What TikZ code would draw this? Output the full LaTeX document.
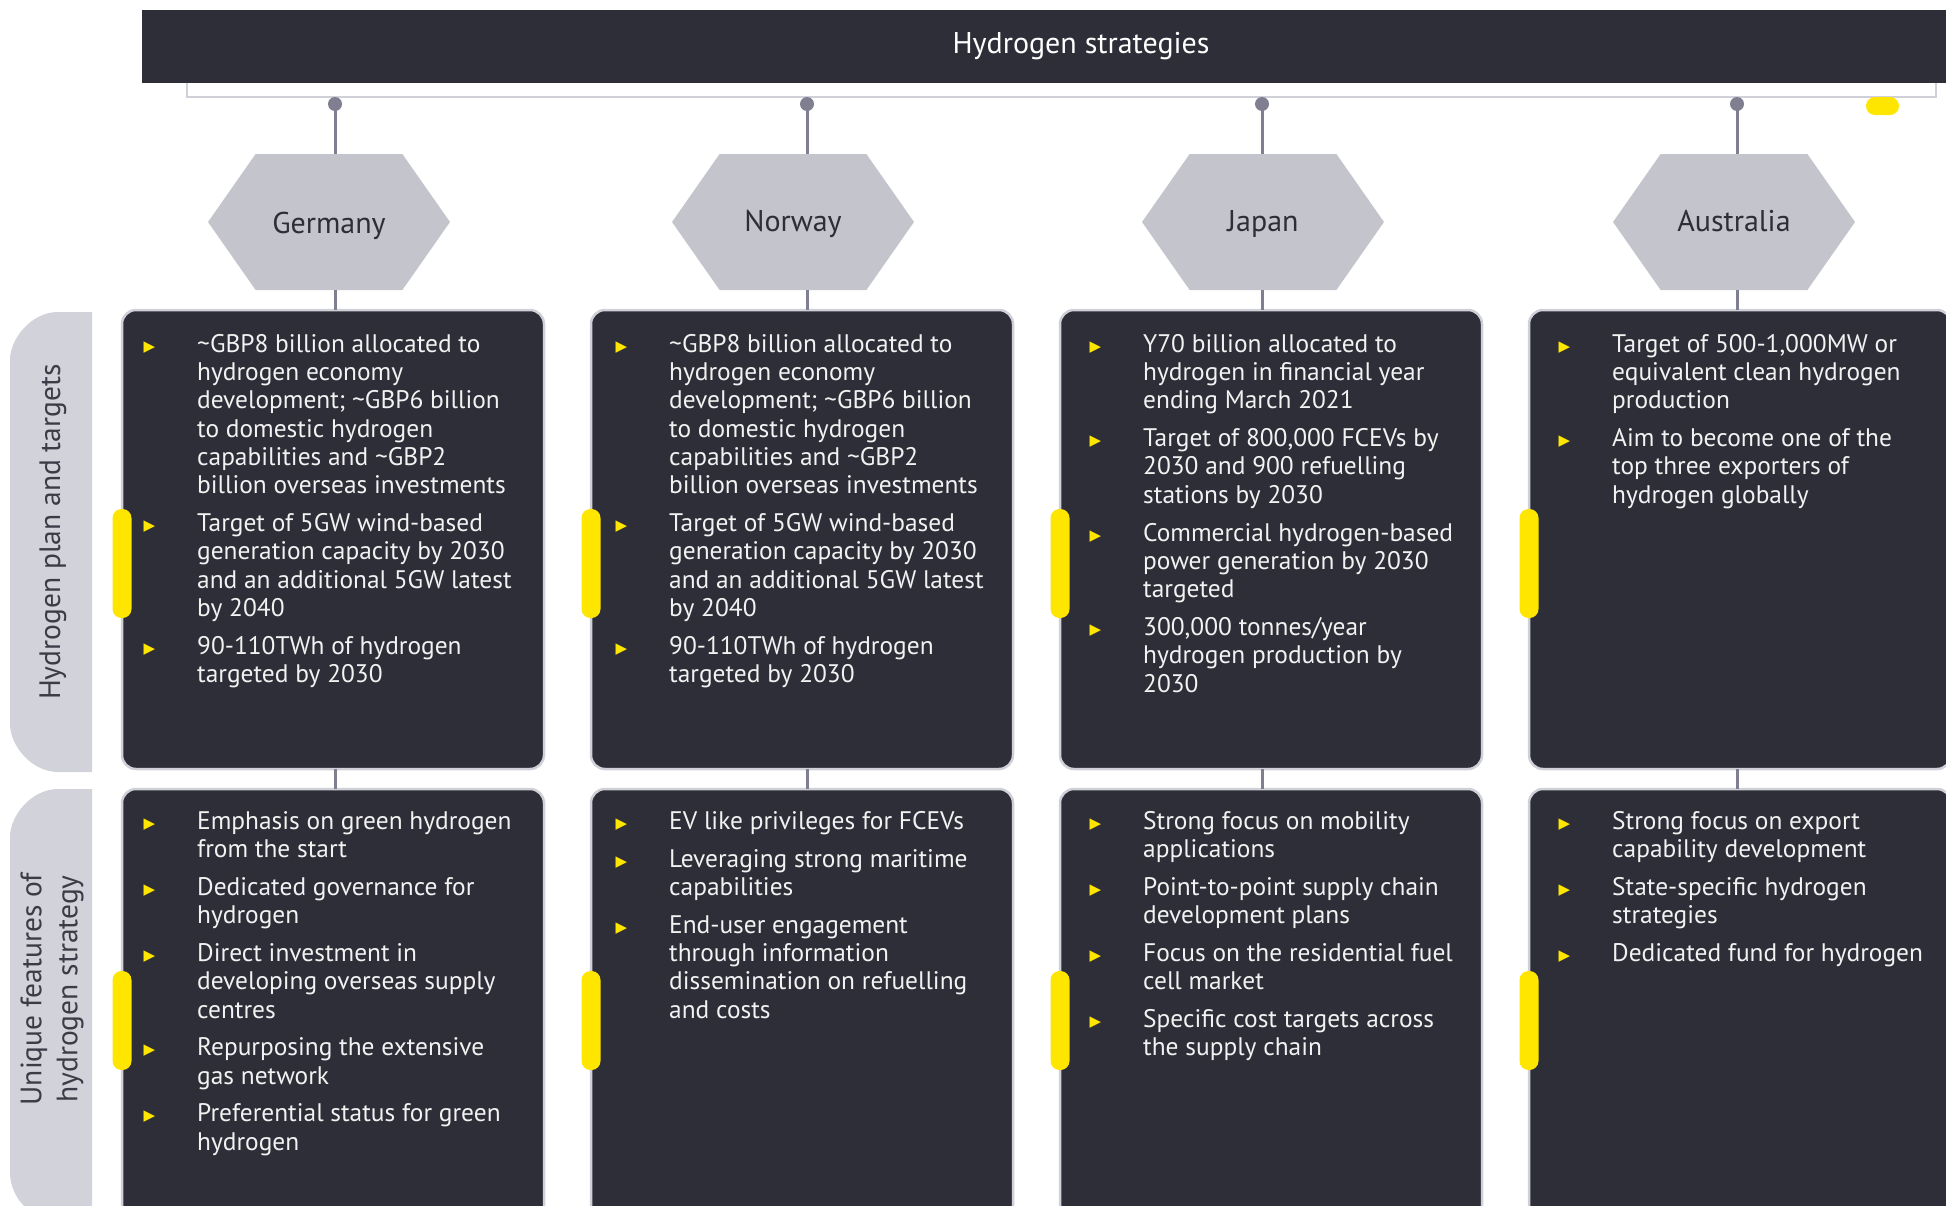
\documentclass[tikz,border=0pt]{standalone}
\usepackage{fontspec}
\setmainfont{PT Sans}
\newfontfamily\symbfont{DejaVu Sans}
\usetikzlibrary{positioning,shapes.symbols}

\definecolor{eydark}{HTML}{2E2E38}
\definecolor{eyyellow}{HTML}{FFE600}
\definecolor{hexgray}{HTML}{C4C4CD}
\definecolor{tabgray}{HTML}{D2D2DA}
\definecolor{linkgray}{HTML}{7F7F91}
\definecolor{edgegray}{HTML}{D0D0D8}
\definecolor{tabtextgray}{HTML}{3C3C48}
\definecolor{bodywhite}{HTML}{F2F2F2}

\newcommand{\hbul}{\llap{\raisebox{1pt}{\symbfont\fontsize{15pt}{15pt}\selectfont\textcolor{eyyellow}{▶}}\hspace{42pt}}}
\newcommand{\firstline}{\rule{0pt}{22pt}}

\begin{document}
\begin{tikzpicture}[x=1pt, y=-1pt,
		infobox/.style={draw=edgegray, line width=2.5pt, fill=eydark, rounded corners=14pt, minimum width=422pt, inner sep=0pt, outer sep=0pt},
		itemtext/.style={text=bodywhite, align=left, inner sep=0pt, anchor=north west, font=\fontsize{25.4pt}{28.3pt}\selectfont},
		hexnode/.style={signal, signal to=east and west, signal pointer angle=110, fill=hexgray, minimum width=242pt, minimum height=136pt, inner sep=0pt, text=eydark, text height=26pt, text depth=7pt, font=\fontsize{30pt}{32pt}\selectfont},
		link/.style={linkgray, line width=3pt},
		pill/.style={fill=eyyellow, rounded corners=9pt, minimum width=19pt, inner sep=0pt, outer sep=0pt},
		tabtext/.style={text=tabtextgray, font=\fontsize{29.5pt}{36pt}\selectfont, align=center, rotate=90}]

	\useasboundingbox (0,0) rectangle (1946,1205);
	\clip (0,0) rectangle (1946,1205);

	\fill[tabgray]	(92,312) -- (58,312) .. controls (31.5,312) and (10,338.5) .. (10,360)
					-- (10,724) .. controls (10,745.5) and (31.5,772) .. (58,772) -- (92,772) -- cycle;
	\fill[tabgray]	(92,789) -- (58,789) .. controls (31.5,789) and (10,815.5) .. (10,837)
					-- (10,1172) .. controls (10,1198.5) and (31.5,1220) .. (58,1220) -- (92,1220) -- cycle;
	\node[tabtext] (tab1) at (53,532) {Hydrogen plan and targets};
	\node[tabtext] (tab2) at (52,989) {Unique features of\\hydrogen strategy};

	\draw[edgegray, line width=2pt] (187,83) -- (187,97) -- (1936,97) -- (1936,83);
	\node[fill=eydark, text=white, minimum width=1878pt, minimum height=73pt, inner sep=0pt,
		font=\fontsize{30pt}{32pt}\selectfont] (bar) at (1081,46.5) {Hydrogen strategies};
	\node[pill, minimum width=33pt, minimum height=18pt, anchor=north west] (barpill) at (1866,97) {};

	\coordinate (dg) at (335,104);
	\coordinate (dn) at (807,104);
	\coordinate (dj) at (1262,104);
	\coordinate (da) at (1737,104);
	\fill[linkgray]	(dg) circle (7pt)
					(dn) circle (7pt)
					(dj) circle (7pt)
					(da) circle (7pt);

	\node[hexnode, text depth=3pt] (hexg) at (329,222) {Germany};
	\node[hexnode] (hexn) at (793,222) {Norway};
	\node[hexnode] (hexj) at (1263,222) {Japan};
	\node[hexnode] (hexa) at (1734,222) {Australia};

	\node[infobox, minimum height=459pt, anchor=north west] (ger1) at (122,310) {};
	\node[infobox, minimum height=459pt, right=47pt of ger1] (nor1) {};
	\node[infobox, minimum height=459pt, right=47pt of nor1] (jap1) {};
	\node[infobox, minimum height=459pt, right=47pt of jap1] (aus1) {};
	\node[infobox, minimum height=436pt, below=20pt of ger1] (ger2) {};
	\node[infobox, minimum height=436pt, below=20pt of nor1] (nor2) {};
	\node[infobox, minimum height=436pt, below=20pt of jap1] (jap2) {};
	\node[infobox, minimum height=436pt, below=20pt of aus1] (aus2) {};

	\draw[link] (dg) -- (dg |- hexg.north);
	\draw[link] (dn) -- (dn |- hexn.north);
	\draw[link] (dj) -- (dj |- hexj.north);
	\draw[link] (da) -- (da |- hexa.north);
	\draw[link] (dg |- hexg.south) -- (dg |- ger1.north);
	\draw[link] (dn |- hexn.south) -- (dn |- nor1.north);
	\draw[link] (dj |- hexj.south) -- (dj |- jap1.north);
	\draw[link] (da |- hexa.south) -- (da |- aus1.north);
	\draw[link] (dg |- ger1.south) -- (dg |- ger2.north);
	\draw[link] (dn |- nor1.south) -- (dn |- nor2.north);
	\draw[link] (dj |- jap1.south) -- (dj |- jap2.north);
	\draw[link] (da |- aus1.south) -- (da |- aus2.north);

	\node[pill, minimum height=109pt, anchor=north] (ger1p) at ([yshift=-199pt]ger1.north west) {};
	\node[pill, minimum height=109pt, anchor=north] (nor1p) at ([yshift=-199pt]nor1.north west) {};
	\node[pill, minimum height=109pt, anchor=north] (jap1p) at ([yshift=-199pt]jap1.north west) {};
	\node[pill, minimum height=109pt, anchor=north] (aus1p) at ([yshift=-199pt]aus1.north west) {};
	\node[pill, minimum height=99pt, anchor=north] (ger2p) at ([yshift=-182pt]ger2.north west) {};
	\node[pill, minimum height=99pt, anchor=north] (nor2p) at ([yshift=-182pt]nor2.north west) {};
	\node[pill, minimum height=99pt, anchor=north] (jap2p) at ([yshift=-182pt]jap2.north west) {};
	\node[pill, minimum height=99pt, anchor=north] (aus2p) at ([yshift=-182pt]aus2.north west) {};

	\node[itemtext] (ger1t) at ([xshift=75pt, yshift=-20pt]ger1.north west)
		{\hbul\firstline\textasciitilde GBP8 billion allocated to\\
		hydrogen economy\\
		development; \textasciitilde GBP6 billion\\
		to domestic hydrogen\\
		capabilities and \textasciitilde GBP2\\
		billion overseas investments\\[9.5pt]
		\hbul Target of 5GW wind-based\\
		generation capacity by 2030\\
		and an additional 5GW latest\\
		by 2040\\[9.5pt]
		\hbul 90-110TWh of hydrogen\\
		targeted by 2030};
	\node[itemtext] (nor1t) at ([xshift=78pt, yshift=-20pt]nor1.north west)
		{\hbul\firstline\textasciitilde GBP8 billion allocated to\\
		hydrogen economy\\
		development; \textasciitilde GBP6 billion\\
		to domestic hydrogen\\
		capabilities and \textasciitilde GBP2\\
		billion overseas investments\\[9.5pt]
		\hbul Target of 5GW wind-based\\
		generation capacity by 2030\\
		and an additional 5GW latest\\
		by 2040\\[9.5pt]
		\hbul 90-110TWh of hydrogen\\
		targeted by 2030};
	\node[itemtext] (jap1t) at ([xshift=83pt, yshift=-20pt]jap1.north west)
		{\hbul\firstline Y70 billion allocated to\\
		hydrogen in financial year\\
		ending March 2021\\[9.5pt]
		\hbul Target of 800,000 FCEVs by\\
		2030 and 900 refuelling\\
		stations by 2030\\[9.5pt]
		\hbul Commercial hydrogen-based\\
		power generation by 2030\\
		targeted\\[9.5pt]
		\hbul 300,000 tonnes/year\\
		hydrogen production by\\
		2030};
	\node[itemtext] (aus1t) at ([xshift=83pt, yshift=-20pt]aus1.north west)
		{\hbul\firstline Target of 500-1,000MW or\\
		equivalent clean hydrogen\\
		production\\[9.5pt]
		\hbul Aim to become one of the\\
		top three exporters of\\
		hydrogen globally};

	\node[itemtext] (ger2t) at ([xshift=75pt, yshift=-18pt]ger2.north west)
		{\hbul\firstline Emphasis on green hydrogen\\
		from the start\\[9.5pt]
		\hbul Dedicated governance for\\
		hydrogen\\[9.5pt]
		\hbul Direct investment in\\
		developing overseas supply\\
		centres\\[9.5pt]
		\hbul Repurposing the extensive\\
		gas network\\[9.5pt]
		\hbul Preferential status for green\\
		hydrogen};
	\node[itemtext] (nor2t) at ([xshift=78pt, yshift=-18pt]nor2.north west)
		{\hbul\firstline EV like privileges for FCEVs\\[9.5pt]
		\hbul Leveraging strong maritime\\
		capabilities\\[9.5pt]
		\hbul End-user engagement\\
		through information\\
		dissemination on refuelling\\
		and costs};
	\node[itemtext] (jap2t) at ([xshift=83pt, yshift=-18pt]jap2.north west)
		{\hbul\firstline Strong focus on mobility\\
		applications\\[9.5pt]
		\hbul Point-to-point supply chain\\
		development plans\\[9.5pt]
		\hbul Focus on the residential fuel\\
		cell market\\[9.5pt]
		\hbul Specific cost targets across\\
		the supply chain};
	\node[itemtext] (aus2t) at ([xshift=83pt, yshift=-18pt]aus2.north west)
		{\hbul\firstline Strong focus on export\\
		capability development\\[9.5pt]
		\hbul State-specific hydrogen\\
		strategies\\[9.5pt]
		\hbul Dedicated fund for hydrogen};
\end{tikzpicture}
\end{document}
